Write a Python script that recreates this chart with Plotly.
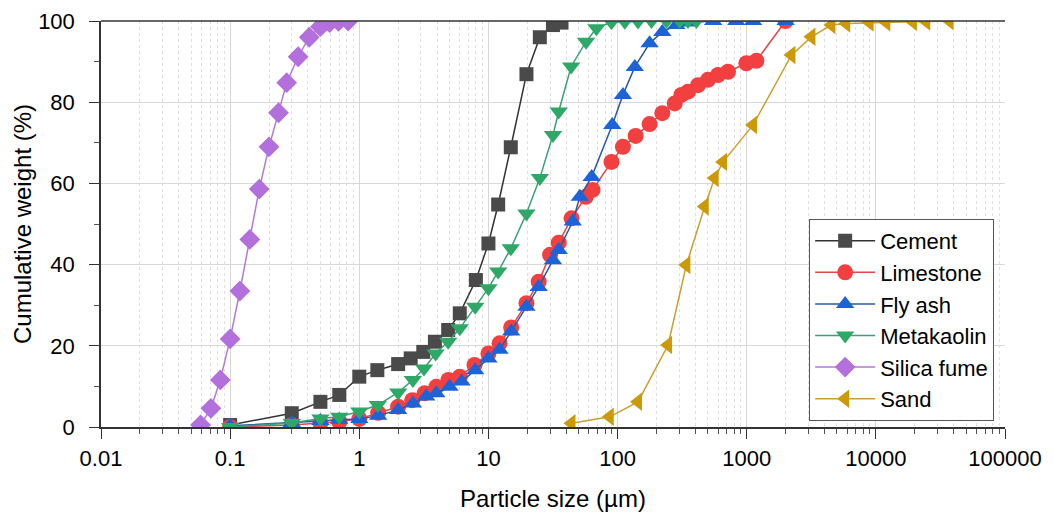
import plotly.graph_objects as go

# ---------------- data ----------------
cement_x = [0.1, 0.3, 0.5, 0.7, 1.0, 1.38, 2.0, 2.5, 3.13, 3.85, 4.88, 6.0, 8.0, 10.0, 11.9, 14.9, 19.7, 25.0, 31.6, 36.8]
cement_y = [0.5, 3.4, 6.2, 7.9, 12.4, 14.0, 15.5, 16.9, 18.5, 21.0, 23.9, 28.0, 36.2, 45.2, 54.8, 68.9, 86.9, 96.0, 99.0, 99.6]

limestone_x = [0.1, 0.3, 0.5, 0.7, 1.0, 1.4, 2.0, 2.57, 3.2, 3.95, 4.9, 6.0, 7.8, 10.0, 12.2, 15.0, 19.7, 24.5, 30.0, 35.0,
               44.0, 56.7, 64.0, 89.7, 110, 138, 177, 222, 277, 312, 351, 420, 501, 600, 716, 994, 1188, 2000]
limestone_y = [0.0, 0.5, 1.0, 1.3, 2.0, 3.5, 5.0, 6.6, 8.3, 9.9, 11.6, 12.4, 15.3, 18.1, 20.6, 24.5, 30.5, 35.8, 42.4, 45.4,
               51.4, 56.7, 58.4, 65.3, 69.0, 71.7, 74.6, 77.3, 79.7, 81.8, 82.6, 84.2, 85.5, 86.7, 87.5, 89.6, 90.2, 100.0]

flyash_x = [0.1, 0.3, 0.5, 0.7, 1.0, 1.4, 2.0, 2.6, 3.3, 3.95, 5.0, 6.2, 7.9, 10.0, 12.2, 15.0, 19.7, 24.5, 31.6, 35.0,
            45.0, 51.0, 63.0, 91.0, 110, 136, 177, 222, 285, 350, 550, 830, 1120, 2000]
flyash_y = [0.3, 1.0, 1.5, 1.8, 2.0, 2.8, 4.2, 5.8, 7.5, 8.3, 9.9, 11.2, 14.0, 16.9, 19.0, 23.5, 29.6, 34.5, 41.1, 43.6,
            50.6, 56.7, 61.6, 74.4, 81.8, 88.7, 94.5, 97.3, 99.0, 99.6, 100, 100, 100, 100]

metakaolin_x = [0.1, 0.3, 0.5, 0.7, 1.0, 1.39, 2.0, 2.6, 3.17, 3.9, 4.88, 6.0, 7.9, 10.0, 11.9, 14.9, 19.7, 25.0, 31.6, 35.0,
                43.7, 57.0, 68.6, 89.7, 113.7, 144, 183, 239, 303, 351, 408]
metakaolin_y = [0.0, 1.0, 2.1, 2.5, 3.8, 5.4, 8.5, 11.6, 14.4, 18.1, 21.0, 24.3, 29.6, 34.2, 38.3, 44.0, 52.6, 61.3, 71.9, 77.7,
                88.8, 94.9, 98.2, 99.7, 99.8, 99.9, 100, 100, 100, 100, 100]

silica_x = [0.059, 0.071, 0.084, 0.1, 0.119, 0.142, 0.168, 0.2, 0.237, 0.274, 0.336, 0.41, 0.5, 0.59, 0.69, 0.82]
silica_y = [0.5, 4.6, 11.6, 21.7, 33.5, 46.2, 58.6, 69.0, 77.4, 84.8, 91.2, 96.0, 98.6, 99.6, 99.9, 100]

sand_x = [44, 87, 144, 246, 341, 473, 565, 656, 1120, 2220, 3170, 4530, 5900, 8950, 12050, 19360, 24550, 37200]
sand_y = [0.9, 2.5, 6.2, 20.2, 39.9, 54.3, 61.3, 65.3, 74.4, 91.6, 96.1, 99.0, 99.4, 99.6, 99.7, 99.8, 99.9, 100]

series_names = ["Cement", "Limestone", "Fly ash", "Metakaolin", "Silica fume", "Sand"]
x_tick_vals = [0.01, 0.1, 1, 10, 100, 1000, 10000, 100000]
x_tick_text = ["0.01", "0.1", "1", "10", "100", "1000", "10000", "100000"]
y_tick_vals = [0, 20, 40, 60, 80, 100]

# ---------------- styles ----------------
styles = [
    dict(color="#4a4a4a", line="#333333", symbol="square", size=14),
    dict(color="#f23f3f", line="#e04848", symbol="circle", size=16),
    dict(color="#1d63d8", line="#2a5aa0", symbol="triangle-up", size=16),
    dict(color="#2ea866", line="#3aa07a", symbol="triangle-down", size=16),
    dict(color="#b36fdc", line="#b07ad8", symbol="diamond", size=16),
    dict(color="#cc9a08", line="#c9a030", symbol="triangle-left", size=16),
]
data = [(cement_x, cement_y), (limestone_x, limestone_y), (flyash_x, flyash_y),
        (metakaolin_x, metakaolin_y), (silica_x, silica_y), (sand_x, sand_y)]

fig = go.Figure()
for name, (xs, ys), st in zip(series_names, data, styles):
    fig.add_trace(go.Scatter(
        x=xs, y=ys, name=name, mode="lines+markers",
        line=dict(color=st["line"], width=1.5),
        marker=dict(symbol=st["symbol"], size=st["size"], color=st["color"],
                    line=dict(width=0)),
    ))

font_family = "Liberation Sans, Arial, sans-serif"
fig.update_layout(
    width=1053, height=513,
    margin=dict(l=101, r=48, t=21, b=86),
    paper_bgcolor="white", plot_bgcolor="white",
    font=dict(family=font_family, size=22, color="black"),
    showlegend=True,
    legend=dict(
        x=0.988, y=0.015, xanchor="right", yanchor="bottom",
        bgcolor="white", bordercolor="#555555", borderwidth=1,
        font=dict(size=22, family=font_family, color="black"),
        tracegroupgap=0, itemwidth=60,
    ),
)
fig.update_xaxes(
    type="log", range=[-2, 5], automargin=False,
    tickmode="array", tickvals=x_tick_vals, ticktext=x_tick_text,
    ticks="outside", ticklen=10, tickwidth=1, tickcolor="#333",
    ticklabelstandoff=1,
    showline=True, linecolor="#333", linewidth=1.5, mirror=False,
    showgrid=True, gridcolor="#d8d8d8", gridwidth=1,
    minor=dict(ticks="outside", ticklen=5, tickcolor="#555", showgrid=True,
               gridcolor="#e0e0e0", griddash="dot", dtick="D1"),
    title=dict(text="Particle size (µm)", font=dict(size=24), standoff=20),
    tickfont=dict(size=22),
    zeroline=False,
)
fig.update_yaxes(
    range=[0, 100], automargin=False,
    tickmode="array", tickvals=y_tick_vals,
    ticks="outside", ticklen=10, tickwidth=1, tickcolor="#333",
    ticklabelstandoff=10,
    showline=True, linecolor="#333", linewidth=1.5,
    showgrid=True, gridcolor="#d8d8d8", gridwidth=1,
    minor=dict(ticks="outside", ticklen=5, tickcolor="#555", dtick=10, showgrid=False),
    title=dict(text="Cumulative weight (%)", font=dict(size=24), standoff=0),
    tickfont=dict(size=22),
    zeroline=False,
)
# top frame line
fig.add_shape(type="line", xref="paper", yref="paper", x0=0, x1=1, y0=1, y1=1,
              line=dict(color="#333", width=1.5))

fig.write_html("out.html")
